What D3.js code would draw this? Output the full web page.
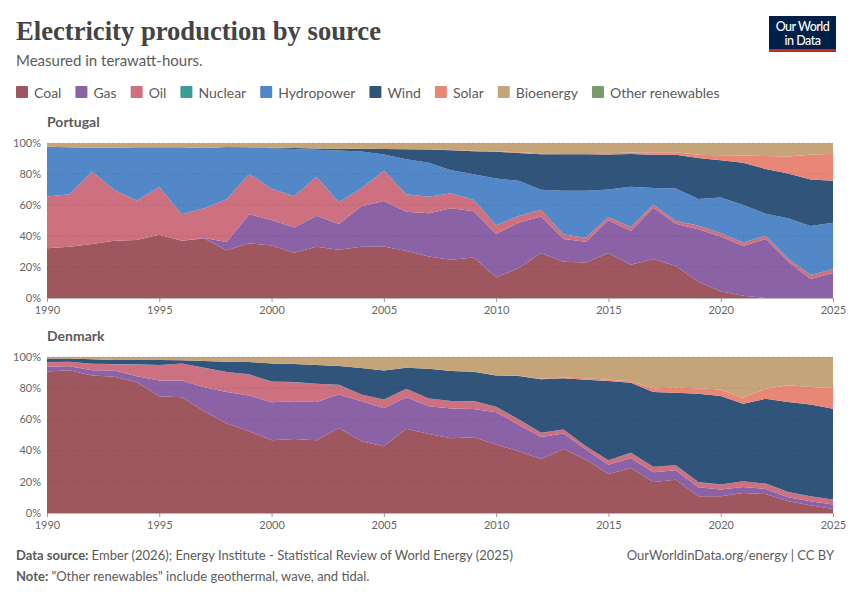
<!DOCTYPE html>
<html>
<head>
<meta charset="utf-8">
<script src="https://cdn.jsdelivr.net/npm/d3@7"></script>
<style>
  body { margin: 0; background: #fff; }
  svg { display: block; font-family: Lato, "Noto Sans", sans-serif; }
</style>
</head>
<body>
<div id="chart"></div>
<script>
// years shown on the x axis
const years = d3.range(1990, 2026);
const xTicks = [1990, 1995, 2000, 2005, 2010, 2015, 2020, 2025];
const yTicks = [0, 0.2, 0.4, 0.6, 0.8, 1];

const sources = ["Coal", "Gas", "Oil", "Nuclear", "Hydropower", "Wind", "Solar", "Bioenergy", "Other renewables"];
const colors = ["#9e575e", "#8a62a5", "#cd7080", "#3a9e96", "#5288c8", "#31547a", "#e98776", "#c6a47a", "#7a9a6b"];

// shares of generation (%), 1990..2025
const coalPT = [32.1,33.0,34.7,36.8,37.3,40.7,36.8,38.3,30.8,35.3,33.8,29.3,33.2,31.3,33.2,33.2,30.6,26.8,24.6,26.1,13.3,19.3,28.9,23.3,22.9,28.9,21.4,25.1,20.8,10.5,4.3,1.5,0,0,0,0];
const gasPT = [0,0,0,0,0,0,0,0.3,5.2,18.7,16.5,16.3,20.1,16.7,26.3,29.3,25.5,27.8,33.2,29.8,28.0,29.3,23.6,14.6,13.3,21.0,21.9,33.1,27.4,33.8,35.3,32.1,37.9,23.6,12.2,16.1];
const oilPT = [33.2,33.8,46.7,32.8,25.4,30.8,17.2,19.2,27.6,25.9,20.1,20.1,25.3,14.1,11.6,19.5,11.4,10.7,9.7,7.3,5.6,4.3,4.2,3.0,2.6,2.1,2.3,2.2,1.8,2.4,2.2,2.2,2.1,1.9,2.6,2.5];
const nuclearPT = [0,0,0,0,0,0,0,0,0,0,0,0,0,0,0,0,0,0,0,0,0,0,0,0,0,0,0,0,0,0,0,0,0,0,0,0];
const hydroPT = [32.1,30.2,15.4,27.2,34.3,25.5,43.0,38.8,33.6,17.1,26.0,30.5,17.4,33.6,23.8,10.5,22.9,21.9,14.9,16.5,30.2,22.7,12.9,28.1,30.2,17.6,26.1,10.5,21.2,17.1,23.1,24.2,14.2,25.9,31.7,30.0];
const windPT = [0,0,0,0,0,0,0,0,0.1,0.1,0.3,0.6,0.8,1.1,1.8,3.5,6.4,8.5,12.9,14.9,17.1,18.0,22.9,23.5,23.5,22.5,21.2,21.6,21.8,26.6,24.0,27.2,28.7,28.9,29.9,27.0];
const solarPT = [0,0,0,0,0,0,0,0,0,0,0,0,0,0,0,0,0,0.1,0.1,0.3,0.4,0.5,0.6,0.7,0.8,0.9,0.9,1.5,1.7,2.0,3.2,4.8,8.3,11.0,16.0,17.5];
const bioPT = [2.2,2.6,2.8,2.8,2.6,2.6,2.6,3.0,2.3,2.5,2.9,3.0,3.3,3.4,3.4,3.6,3.8,3.8,4.2,4.7,5.0,5.5,6.2,6.1,6.0,6.1,5.8,5.6,5.6,7.2,7.5,7.6,8.0,8.3,7.2,6.5];
const otherPT = [0.2,0.2,0.2,0.2,0.2,0.2,0.2,0.2,0.2,0.2,0.2,0.3,0.3,0.3,0.3,0.3,0.3,0.3,0.3,0.3,0.3,0.4,0.4,0.4,0.4,0.4,0.4,0.4,0.4,0.4,0.4,0.4,0.4,0.4,0.4,0.4];

const coalDK = [90.8,91.6,88.2,87.4,83.9,74.9,74.3,65.3,57.4,52.5,46.7,47.5,46.7,54.6,46.0,42.8,54.0,50.7,48.0,48.6,43.9,39.6,34.7,41.1,34.3,25.1,28.9,19.9,21.4,10.7,10.7,12.8,12.2,7.5,4.9,2.6];
const gasDK = [3.0,2.6,3.4,4.0,3.9,10.1,10.7,15.4,20.3,22.9,24.4,24.2,24.6,21.4,25.7,24.4,20.3,17.8,19.0,18.2,20.8,17.1,14.1,9.9,6.4,5.9,6.4,6.2,6.0,5.8,4.3,3.9,3.2,2.6,2.6,2.8];
const oilDK = [3.0,2.8,4.1,4.1,7.5,9.9,10.9,12.4,12.7,13.5,13.1,12.2,11.6,6.2,4.3,5.6,5.4,4.9,4.8,4.9,3.4,3.3,2.6,2.5,2.1,2.8,3.2,3.5,3.2,3.3,3.2,3.6,3.4,3.2,3.2,3.2];
const nuclearDK = [0,0,0,0,0,0,0,0,0,0,0,0,0,0,0,0,0,0,0,0,0,0,0,0,0,0,0,0,0,0,0,0,0,0,0,0];
const hydroDK = [0.1,0.1,0.1,0.1,0.1,0.1,0.1,0.1,0.1,0.1,0.1,0.1,0.1,0.1,0.1,0.1,0.1,0.1,0.1,0.1,0.1,0.1,0.1,0.1,0.1,0.1,0.1,0.1,0.1,0.1,0.1,0.1,0.1,0.1,0.1,0.1];
const windDK = [2.3,2.0,2.8,2.6,2.8,3.1,2.0,4.3,6.6,7.9,11.7,11.6,12.0,12.0,16.9,18.6,13.4,19.1,19.2,18.9,20.1,27.8,34.3,32.8,42.6,50.8,45.0,47.9,46.5,56.6,56.7,49.7,54.4,57.8,58.9,58.2];
const solarDK = [0,0,0,0,0,0,0,0,0,0,0,0,0,0,0,0,0,0,0,0,0.1,0.1,0.4,0.6,0.9,0.8,0.9,2.4,3.2,3.5,4.3,3.9,6.5,10.7,11.1,13.3];
const bioDK = [0.9,1.0,1.5,1.9,1.9,2.0,2.1,2.6,3.0,3.2,4.1,4.5,5.1,5.8,7.1,8.6,6.9,7.5,9.0,9.4,11.7,12.1,13.9,13.1,13.7,14.6,15.6,20.1,19.7,20.1,20.8,26.1,20.3,18.2,19.3,19.9];
const otherDK = [0,0,0,0,0,0,0,0,0,0,0,0,0,0,0,0,0,0,0,0,0,0,0,0,0,0,0,0,0,0,0,0,0,0,0,0];

const countries = [
  { name: "Portugal", series: [coalPT, gasPT, oilPT, nuclearPT, hydroPT, windPT, solarPT, bioPT, otherPT], top: 143, bottom: 298 },
  { name: "Denmark", series: [coalDK, gasDK, oilDK, nuclearDK, hydroDK, windDK, solarDK, bioDK, otherDK], top: 357, bottom: 513 }
];

const width = 850, height = 600;
const svg = d3.select("#chart").append("svg").attr("width", width).attr("height", height);

// HEADER
const title = svg.append("text")
  .attr("x", 16).attr("y", 40)
  .attr("font-family", "'Liberation Serif', 'DejaVu Serif', serif")
  .attr("font-size", 27).attr("font-weight", 600)
  .attr("fill", "#444")
  .text("Electricity production by source");
title.attr("textLength", 365).attr("lengthAdjust", "spacingAndGlyphs");

svg.append("text")
  .attr("x", 16).attr("y", 66)
  .attr("font-size", 15).attr("fill", "#5b5b5b")
  .text("Measured in terawatt-hours.");

// logo
const logo = svg.append("g").attr("transform", "translate(769,16)");
logo.append("rect").attr("width", 67).attr("height", 36).attr("fill", "#002147");
logo.append("rect").attr("y", 33).attr("width", 67).attr("height", 3).attr("fill", "#ce261e");
logo.append("text").attr("x", 33.5).attr("y", 15).attr("text-anchor", "middle")
  .attr("fill", "#fff").attr("font-size", 12.5).attr("font-weight", 500).attr("letter-spacing", -0.5).text("Our World");
logo.append("text").attr("x", 33.5).attr("y", 29).attr("text-anchor", "middle")
  .attr("fill", "#fff").attr("font-size", 12.5).attr("font-weight", 500).attr("letter-spacing", -0.5).text("in Data");

// LEGEND
const legend = svg.append("g").attr("transform", "translate(16,92)");
let lx = 0;
sources.forEach((s, i) => {
  const item = legend.append("g").attr("transform", `translate(${lx},0)`);
  item.append("rect").attr("x", 0).attr("y", -6).attr("width", 12).attr("height", 12)
    .attr("rx", 1).attr("fill", colors[i]);
  const t = item.append("text").attr("x", 18).attr("y", 5.5)
    .attr("font-size", 14).attr("fill", "#5b5b5b").text(s);
  lx += 18 + t.node().getComputedTextLength() + 14;
});

// PANELS
const x = d3.scaleLinear().domain([1990, 2025]).range([47, 833]);

countries.forEach(c => {
  const rows = years.map((yr, i) => {
    const row = { year: yr };
    sources.forEach((s, k) => { row[s] = c.series[k][i]; });
    return row;
  });

  const stack = d3.stack().keys(sources).offset(d3.stackOffsetExpand).order(d3.stackOrderNone);
  const layers = stack(rows);

  const y = d3.scaleLinear().domain([0, 1]).range([c.bottom, c.top]);

  svg.append("text")
    .attr("x", 47).attr("y", c.top - 16)
    .attr("font-size", 14).attr("font-weight", 700).attr("fill", "#5b5b5b")
    .text(c.name);

  const area = d3.area()
    .x(d => x(d.data.year))
    .y0(d => y(d[0]))
    .y1(d => y(d[1]));

  svg.append("g").selectAll("path")
    .data(layers)
    .join("path")
    .attr("fill", (d, i) => colors[i])
    .attr("d", area);

  // grid lines (dashed, drawn faintly over the areas)
  svg.append("g").selectAll("line")
    .data(yTicks.slice(1))
    .join("line")
    .attr("x1", 47).attr("x2", 833)
    .attr("y1", d => y(d)).attr("y2", d => y(d))
    .attr("stroke", "#000").attr("stroke-opacity", d => d === 1 ? 0.12 : 0.07)
    .attr("stroke-dasharray", "3,2");

  // y axis labels
  svg.append("g").selectAll("text")
    .data(yTicks)
    .join("text")
    .attr("x", 41).attr("y", d => y(d))
    .attr("dy", "0.35em")
    .attr("text-anchor", "end")
    .attr("font-size", 11).attr("fill", "#666")
    .text(d => d3.format(".0%")(d));

  // x axis
  const xAxis = svg.append("g")
    .attr("transform", `translate(0,${c.bottom})`)
    .call(d3.axisBottom(x).tickValues(xTicks).tickFormat(d3.format("d")).tickSize(4).tickPadding(4));
  xAxis.select(".domain").attr("stroke", "#bbb");
  xAxis.selectAll(".tick line").attr("stroke", "#999");
  xAxis.selectAll("text").attr("font-family", "Lato, sans-serif").attr("font-size", 11).attr("fill", "#666");
});

// FOOTER
const src = svg.append("text").attr("x", 16).attr("y", 560).attr("font-size", 13).attr("fill", "#5b5b5b");
src.append("tspan").attr("font-weight", 700).text("Data source: ");
src.append("tspan").text("Ember (2026); Energy Institute - Statistical Review of World Energy (2025)");

svg.append("text").attr("x", 834).attr("y", 560).attr("text-anchor", "end")
  .attr("font-size", 13).attr("fill", "#5b5b5b")
  .text("OurWorldinData.org/energy | CC BY");

const note = svg.append("text").attr("x", 16).attr("y", 581).attr("font-size", 13).attr("fill", "#5b5b5b");
note.append("tspan").attr("font-weight", 700).text("Note: ");
note.append("tspan").text("\"Other renewables\" include geothermal, wave, and tidal.");
</script>
</body>
</html>
